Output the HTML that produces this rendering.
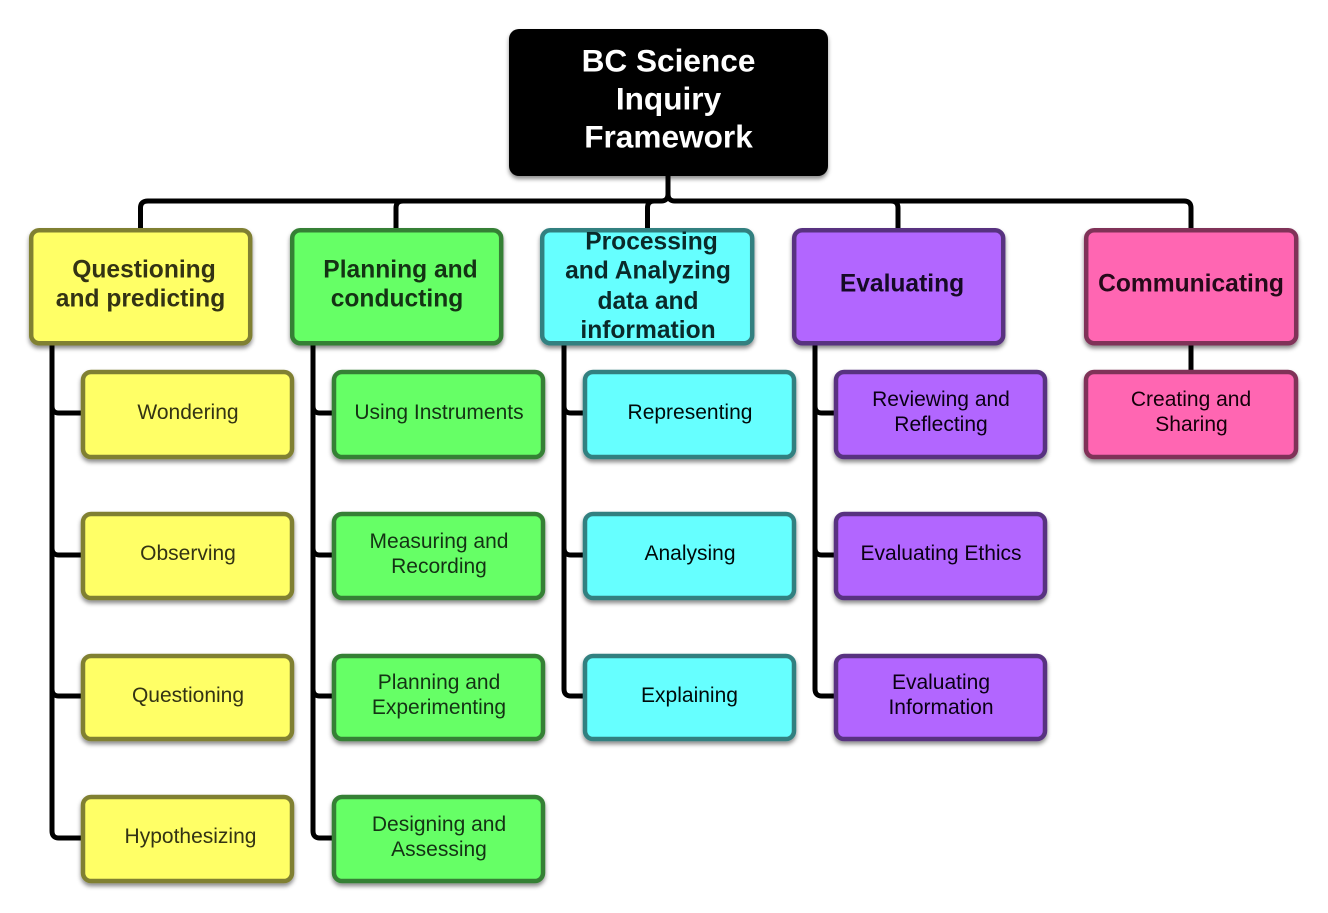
<!DOCTYPE html>
<html><head><meta charset="utf-8"><style>
html,body{margin:0;padding:0;background:#fff;width:1328px;height:913px;overflow:hidden}
svg{display:block}
text{font-family:"Liberation Sans",sans-serif;text-anchor:middle}
.h{font-weight:700;font-size:24.6px}
.c{font-size:21px}
.r{font-weight:700;font-size:31.6px;fill:#fff}
.y rect{fill:#ffff66;stroke:#808033}.y text{fill:#333314}
.g rect{fill:#66ff66;stroke:#358035}.g text{fill:#143314}
.b rect{fill:#66ffff;stroke:#338080}.b text{fill:#0a2a2a}
.p rect{fill:#b266ff;stroke:#593380}.p text{fill:#160a26}
.k rect{fill:#ff66b2;stroke:#803359}.k text{fill:#260a1a}
.b .c{fill:#000a0a}.p .c{fill:#0a0014}.k .c{fill:#14000a}
rect{stroke-width:4.5}
.l{fill:none;stroke:#000;stroke-width:5}
</style></head><body>
<svg width="1328" height="913" viewBox="0 0 1328 913" xmlns="http://www.w3.org/2000/svg">
<defs><filter id="s" x="-10%" y="-10%" width="120%" height="125%"><feDropShadow dx="0" dy="3" stdDeviation="2.2" flood-color="#000" flood-opacity=".45"/></filter></defs>

<g class="l">
<path d="M668 176V194Q668 201 661 201H148Q140.500 201 140.500 208V230"/>
<path d="M668 176V194Q668 201 675 201H1184Q1191 201 1191 208V230"/>
<path d="M658 201H403Q396 201 396 208V230"/>
<path d="M658 201H654Q647.500 201 647.500 208V230"/>
<path d="M678 201H891Q898 201 898 208V230"/>
<path d="M52 343V831Q52 838 59 838H83"/>
<path d="M52 406Q52 413 59 413H83M52 548Q52 555 59 555H83M52 689Q52 696 59 696H83"/>
<path d="M313 343V831Q313 838 320 838H334"/>
<path d="M313 406Q313 413 320 413H334M313 548Q313 555 320 555H334M313 689Q313 696 320 696H334"/>
<path d="M564 343V689Q564 696 571 696H585"/>
<path d="M564 406Q564 413 571 413H585M564 548Q564 555 571 555H585"/>
<path d="M815 343V689Q815 696 822 696H836"/>
<path d="M815 406Q815 413 822 413H836M815 548Q815 555 822 555H836"/>
<path d="M1191 343V372"/>
</g>

<g>
<rect x="509" y="29" width="319" height="147" rx="10" fill="#000" stroke="none" filter="url(#s)"/>
<text class="r" x="668.500" y="71.500">BC Science</text>
<text class="r" x="668.500" y="109.500">Inquiry</text>
<text class="r" x="668.500" y="147.500">Framework</text>
</g>

<g class="y">
<g filter="url(#s)"><rect x="31.200" y="230.200" width="219" height="113" rx="8"/></g>
<text class="h" x="144" y="277.500">Questioning</text>
<text class="h" x="140.500" y="306.500">and predicting</text>
<g filter="url(#s)"><rect x="83" y="372" width="209" height="85" rx="8"/></g>
<text class="c" x="188" y="419">Wondering</text>
<g filter="url(#s)"><rect x="83" y="514" width="209" height="84" rx="8"/></g>
<text class="c" x="188" y="560">Observing</text>
<g filter="url(#s)"><rect x="83" y="656" width="209" height="83" rx="8"/></g>
<text class="c" x="188" y="702">Questioning</text>
<g filter="url(#s)"><rect x="83" y="797" width="209" height="84" rx="8"/></g>
<text class="c" x="190.500" y="843">Hypothesizing</text>
</g>

<g class="g">
<g filter="url(#s)"><rect x="292.200" y="230.200" width="209" height="113" rx="8"/></g>
<text class="h" x="400.500" y="277.500">Planning and</text>
<text class="h" x="397" y="306.500">conducting</text>
<g filter="url(#s)"><rect x="334" y="372" width="209" height="85" rx="8"/></g>
<text class="c" x="439" y="419">Using Instruments</text>
<g filter="url(#s)"><rect x="334" y="514" width="209" height="84" rx="8"/></g>
<text class="c" x="439" y="548">Measuring and</text>
<text class="c" x="439" y="573">Recording</text>
<g filter="url(#s)"><rect x="334" y="656" width="209" height="83" rx="8"/></g>
<text class="c" x="439" y="689">Planning and</text>
<text class="c" x="439" y="714">Experimenting</text>
<g filter="url(#s)"><rect x="334" y="797" width="209" height="84" rx="8"/></g>
<text class="c" x="439" y="831">Designing and</text>
<text class="c" x="439" y="856">Assessing</text>
</g>

<g class="b">
<g filter="url(#s)"><rect x="542.200" y="230.200" width="210" height="113" rx="8"/></g>
<text class="h" x="651.500" y="249.500">Processing</text>
<text class="h" x="648" y="278.500">and Analyzing</text>
<text class="h" x="648" y="309">data and</text>
<text class="h" x="648" y="338">information</text>
<g filter="url(#s)"><rect x="585" y="372" width="209" height="85" rx="8"/></g>
<text class="c" x="690" y="419">Representing</text>
<g filter="url(#s)"><rect x="585" y="514" width="209" height="84" rx="8"/></g>
<text class="c" x="690" y="560">Analysing</text>
<g filter="url(#s)"><rect x="585" y="656" width="209" height="83" rx="8"/></g>
<text class="c" x="689.500" y="702">Explaining</text>
</g>

<g class="p">
<g filter="url(#s)"><rect x="794.200" y="230.200" width="209" height="113" rx="8"/></g>
<text class="h" x="902" y="291.500">Evaluating</text>
<g filter="url(#s)"><rect x="836" y="372" width="209" height="85" rx="8"/></g>
<text class="c" x="941" y="406">Reviewing and</text>
<text class="c" x="941" y="431">Reflecting</text>
<g filter="url(#s)"><rect x="836" y="514" width="209" height="84" rx="8"/></g>
<text class="c" x="941" y="560">Evaluating Ethics</text>
<g filter="url(#s)"><rect x="836" y="656" width="209" height="83" rx="8"/></g>
<text class="c" x="941" y="689">Evaluating</text>
<text class="c" x="941" y="714">Information</text>
</g>

<g class="k">
<g filter="url(#s)"><rect x="1086.200" y="230.200" width="210" height="113" rx="8"/></g>
<text class="h" x="1191" y="291.500">Communicating</text>
<g filter="url(#s)"><rect x="1086" y="372" width="210" height="85" rx="8"/></g>
<text class="c" x="1191" y="406">Creating and</text>
<text class="c" x="1191.500" y="431">Sharing</text>
</g>
</svg>
</body></html>
